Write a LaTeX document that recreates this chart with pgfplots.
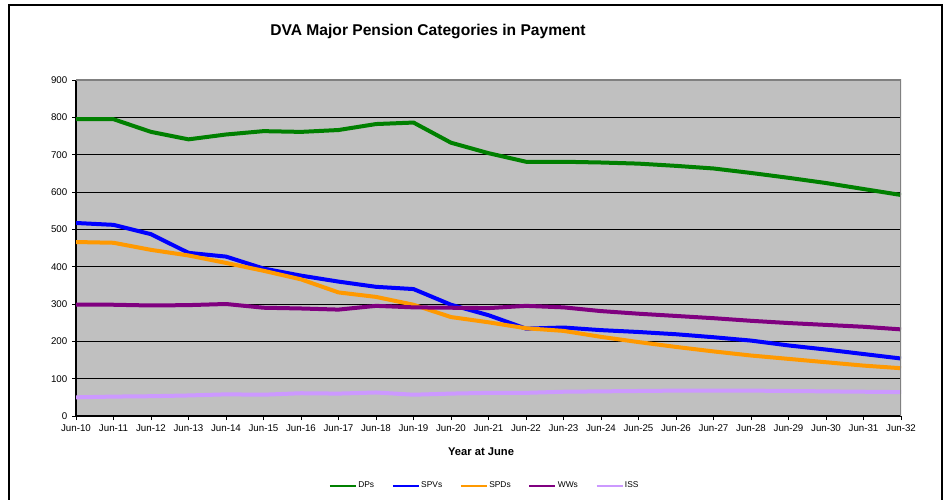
\documentclass[border=0pt]{standalone}
\usepackage{fontspec}
\setmainfont{Liberation Sans}
\usepackage{pgfplots}
\usepackage{pgfplotstable}
\pgfplotsset{compat=1.18}
\definecolor{cDP}{RGB}{0,128,0}
\definecolor{cSPV}{RGB}{0,0,255}
\definecolor{cSPD}{RGB}{255,153,0}
\definecolor{cWW}{RGB}{128,0,128}
\definecolor{cISS}{RGB}{204,153,255}
\definecolor{plotgray}{RGB}{192,192,192}
\definecolor{bordergray}{RGB}{128,128,128}
\pgfplotstableread{
x DP SPV SPD WW ISS
0 795 517 466 298 50
1 795 512 464 298 52
2 761 487 445 296 53
3 741 437 430 297 55
4 754 427 410 300 58
5 763 395 389 290 57
6 761 376 366 288 61
7 766 360 331 285 60
8 782 346 319 295 63
9 786 340 298 291 57
10 732 298 265 290 60
11 704 270 251 289 62
12 681 234 235 295 62
13 681 237 228 291 65
14 679 230 212 281 66
15 676 225 198 274 67
16 670 219 185 268 68
17 663 211 173 262 68
18 651 202 162 255 68
19 638 189 153 249 67
20 624 178 144 244 66
21 608 166 135 239 65
22 592 154 128 232 64
}\datatable
\begin{document}
\begin{tikzpicture}[x=0.75pt,y=0.75pt]
\useasboundingbox (0,0) rectangle (944,499);
\draw[line width=1.5pt] (9,494) rectangle (942,-10);
\node[font=\bfseries\fontsize{11.7}{13}\selectfont] at (428,467) {DVA Major Pension Categories in Payment};
\node[font=\bfseries\fontsize{8.4}{10}\selectfont] at (481,47) {Year at June};
\begin{axis}[
  at={(57pt,62.25pt)}, anchor=south west, scale only axis,
  width=618.75pt, height=252pt,
  xmin=0, xmax=22, ymin=0, ymax=900,
  xtick={0,...,22},
  xticklabels={Jun-10,Jun-11,Jun-12,Jun-13,Jun-14,Jun-15,Jun-16,Jun-17,Jun-18,Jun-19,Jun-20,Jun-21,Jun-22,Jun-23,Jun-24,Jun-25,Jun-26,Jun-27,Jun-28,Jun-29,Jun-30,Jun-31,Jun-32},
  ytick={0,100,...,900},
  axis background/.style={fill=plotgray},
  axis x line*=bottom, axis y line*=left,
  axis line style={black, line width=0.8pt, -},
  ymajorgrids, grid style={black, line width=0.6pt},
  tick style={black, line width=0.6pt}, tick align=outside, major tick length=3pt,
  ticklabel style={font=\fontsize{7.3}{8}\selectfont},
  /pgf/number format/assume math mode=true,
  legend columns=5,
  legend style={at={(0.495,-0.208)}, anchor=center, draw=none, fill=none,
    font=\fontsize{6.3}{7}\selectfont,
    /tikz/every even column/.append style={column sep=12.3pt},
    nodes={inner sep=1pt}},
  legend image code/.code={\draw[#1,line width=1.5pt] (0pt,0pt) -- (19.5pt,0pt);},
  every axis plot/.append style={line width=3pt, line join=round, no marks},
]
\addplot[cDP] table[x=x,y=DP] {\datatable}; \addlegendentry{DPs}
\addplot[cSPV] table[x=x,y=SPV] {\datatable}; \addlegendentry{SPVs}
\addplot[cSPD] table[x=x,y=SPD] {\datatable}; \addlegendentry{SPDs}
\addplot[cWW] table[x=x,y=WW] {\datatable}; \addlegendentry{WWs}
\addplot[cISS] table[x=x,y=ISS] {\datatable}; \addlegendentry{ISS}
\draw[bordergray, line width=0.8pt] (rel axis cs:0,1) -- (rel axis cs:1,1) -- (rel axis cs:1,0);
\end{axis}
\end{tikzpicture}
\end{document}
